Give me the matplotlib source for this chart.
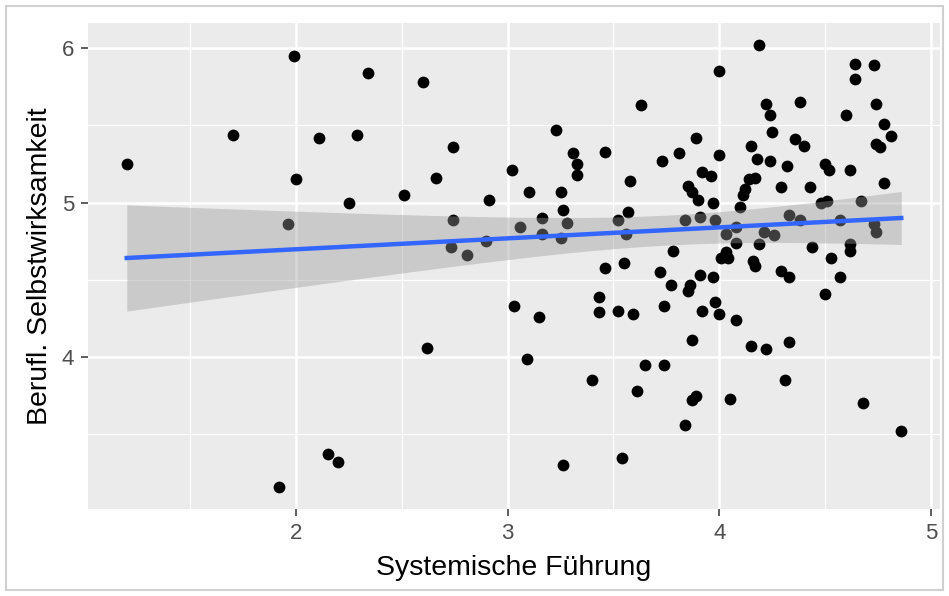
import numpy as np
import matplotlib
matplotlib.use("Agg")
import matplotlib.pyplot as plt
from matplotlib.patches import Rectangle

# Systemische Fuehrung (x) vs. berufl. Selbstwirksamkeit (y)
fuehrung = [
    1.20, 1.70, 1.99, 2.00, 1.96, 2.11, 2.29, 2.34, 2.25, 2.15,
    2.20, 1.92, 2.51, 2.60, 2.62, 2.66, 2.74, 2.74, 2.73, 2.81,
    2.91, 2.90, 3.02, 3.03, 3.06, 3.10, 3.09, 3.15, 3.16, 3.16,
    3.23, 3.25, 3.26, 3.25, 3.28, 3.31, 3.33, 3.33, 3.26, 3.40,
    3.43, 3.43, 3.46, 3.46, 3.52, 3.52, 3.54, 3.55, 3.57, 3.56,
    3.58, 3.59, 3.61, 3.63, 3.65, 3.72, 3.73, 3.74, 3.74, 3.77,
    3.78, 3.81, 3.84, 3.84, 3.85, 3.86, 3.85, 3.87, 3.87, 3.89,
    3.89, 3.87, 3.90, 3.91, 3.91, 3.92, 3.92, 3.96, 3.97, 3.97,
    3.98, 3.98, 4.00, 4.00, 4.00, 4.01, 4.04, 4.03, 4.03, 4.05,
    4.08, 4.08, 4.08, 4.10, 4.11, 4.12, 4.14, 4.17, 4.15, 4.15,
    4.16, 4.17, 4.18, 4.19, 4.19, 4.21, 4.22, 4.24, 4.25, 4.24,
    4.22, 4.26, 4.29, 4.29, 4.32, 4.31, 4.33, 4.33, 4.33, 4.36,
    4.38, 4.40, 4.38, 4.43, 4.44, 4.48, 4.51, 4.50, 4.52, 4.50,
    4.53, 4.57, 4.57, 4.60, 4.62, 4.62, 4.62, 4.64, 4.64, 4.67,
    4.68, 4.73, 4.74, 4.73, 4.74, 4.74, 4.76, 4.78, 4.78, 4.81,
    4.86,
]
selbstwirksamkeit = [
    5.25, 5.44, 5.95, 5.15, 4.86, 5.42, 5.44, 5.84, 5.00, 3.37,
    3.32, 3.16, 5.05, 5.78, 4.06, 5.16, 5.36, 4.89, 4.71, 4.66,
    5.02, 4.75, 5.21, 4.33, 4.84, 5.07, 3.99, 4.26, 4.90, 4.80,
    5.47, 5.07, 4.95, 4.77, 4.87, 5.32, 5.25, 5.18, 3.30, 3.85,
    4.39, 4.29, 5.33, 4.58, 4.89, 4.30, 3.35, 4.61, 4.94, 4.80,
    5.14, 4.28, 3.78, 5.63, 3.95, 4.55, 5.27, 3.95, 4.33, 4.47,
    4.69, 5.32, 4.89, 3.56, 5.11, 4.47, 4.43, 5.07, 4.11, 5.42,
    3.75, 3.72, 5.02, 4.53, 4.91, 5.20, 4.30, 5.17, 4.52, 5.00,
    4.89, 4.36, 5.85, 5.31, 4.28, 4.64, 4.64, 4.80, 4.68, 3.73,
    4.24, 4.84, 4.74, 4.97, 5.05, 5.09, 5.15, 5.16, 5.37, 4.07,
    4.62, 4.59, 5.28, 6.02, 4.73, 4.81, 5.64, 5.57, 5.46, 5.27,
    4.05, 4.79, 5.10, 4.56, 5.24, 3.85, 4.92, 4.52, 4.10, 5.41,
    5.65, 5.37, 4.89, 5.10, 4.71, 5.00, 5.01, 5.25, 5.21, 4.41,
    4.64, 4.52, 4.89, 5.57, 5.21, 4.73, 4.69, 5.90, 5.80, 5.01,
    3.70, 5.89, 5.64, 4.86, 4.81, 5.38, 5.36, 5.13, 5.51, 5.43,
    3.52,
]
x_ticks = [2, 3, 4, 5]
y_ticks = [4, 5, 6]

x = np.array(fuehrung)
y = np.array(selbstwirksamkeit)

# linear fit + 95% confidence band, like geom_smooth(method = "lm")
n = len(x)
slope, intercept = np.polyfit(x, y, 1)
resid = y - (slope * x + intercept)
s = np.sqrt(np.sum(resid ** 2) / (n - 2))
xs = np.linspace(x.min(), x.max(), 80)
fit = slope * xs + intercept
se = s * np.sqrt(1.0 / n + (xs - x.mean()) ** 2 / np.sum((x - x.mean()) ** 2))
t_val = 1.976
lower = fit - t_val * se
upper = fit + t_val * se

plt.rcParams['font.family'] = ['Liberation Sans', 'DejaVu Sans']

fig = plt.figure(figsize=(9.49, 5.96), dpi=100)
ax = fig.add_axes([88 / 949, 1 - 509 / 596, (940 - 88) / 949, (509 - 23) / 596])
ax.set_facecolor('#EBEBEB')
for sp in ax.spines.values():
    sp.set_visible(False)

ax.scatter(x, y, s=72, color='black', linewidths=0, zorder=3)
ax.fill_between(xs, lower, upper, color='#999999', alpha=0.4, linewidth=0, zorder=4)
ax.plot(xs, fit, color='#3366FF', lw=3.2, zorder=5)

# ggplot-style 5% expansion
xr = x.max() - x.min()
yr = y.max() - y.min()
ax.set_xlim(x.min() - 0.05 * xr, x.max() + 0.05 * xr)
ax.set_ylim(y.min() - 0.05 * yr, y.max() + 0.05 * yr)

ax.set_xticks(x_ticks)
ax.set_yticks(y_ticks)
ax.set_xticks([1.5, 2.5, 3.5, 4.5], minor=True)
ax.set_yticks([3.5, 4.5, 5.5], minor=True)
ax.grid(which='major', color='white', lw=1.8, zorder=0)
ax.grid(which='minor', color='white', lw=0.9, zorder=0)
ax.set_axisbelow(True)
ax.tick_params(which='major', length=5, width=1.1, color='#333333',
               labelcolor='#4D4D4D', labelsize=16, pad=5)
ax.tick_params(which='minor', length=0)

ax.set_xlabel('Systemische Führung', fontsize=20.5, labelpad=8)
ax.set_ylabel('Berufl. Selbstwirksamkeit', fontsize=20.5, labelpad=6)

# light frame around the whole picture
fig.patches.append(Rectangle((6 / 949, 1 - 590 / 596), 937 / 949, 584 / 596,
                             transform=fig.transFigure, fill=False,
                             edgecolor='#D0D0D0', lw=1.5))

fig.savefig('out.png', dpi=100)
